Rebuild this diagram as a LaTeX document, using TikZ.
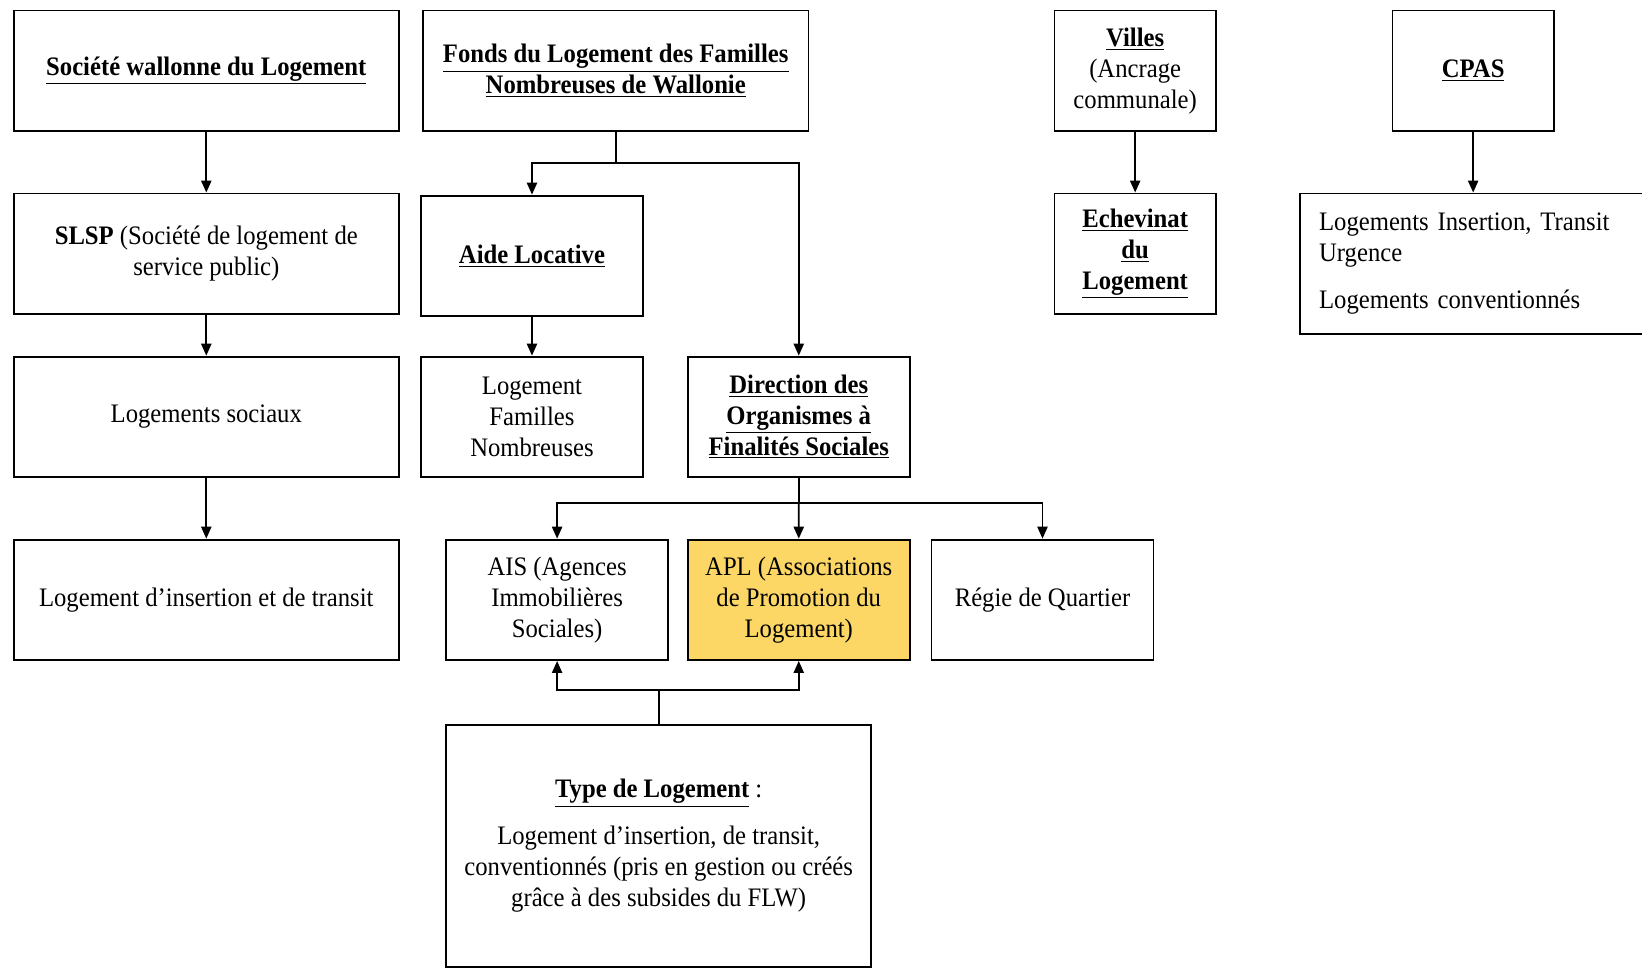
\documentclass[tikz,border=0pt]{standalone}
\usepackage{fontspec}
\setmainfont[FakeStretch=0.925]{Liberation Serif}
\usepackage{tikz}
\usetikzlibrary{positioning, arrows.meta}
\usepackage{xcolor}
\definecolor{aplyellow}{RGB}{252,215,101}
\newcommand{\ulb}[1]{\underline{\textbf{#1}}}

\begin{document}
\begin{tikzpicture}[node distance=1.16cm,
    every node/.style={font=\fontsize{14.5pt}{16.8pt}\selectfont},
    box/.style={draw, line width=1pt, align=center, minimum height=2.3cm, inner sep=0pt},
    wide/.style={box, minimum width=7.36cm},
    mid/.style={box, minimum width=4.24cm},
    narrow/.style={box, minimum width=3.08cm},
    arr/.style={line width=1pt, -{Triangle[length=6.5pt, width=5.5pt]}},
    link/.style={line width=1pt}]
        \useasboundingbox (0,0) rectangle (31.36,-18.52);
        \node[wide] (swl) at (3.94,-1.35) {\ulb{Société wallonne du Logement}};
        \node[wide] (fonds) at (11.76,-1.35) {\ulb{Fonds du Logement des Familles}\\\ulb{Nombreuses de Wallonie}};
        \node[narrow] (villes) at (21.68,-1.35) {\ulb{Villes}\\(Ancrage\\communale)};
        \node[narrow, right=3.34cm of villes] (cpas) {\ulb{CPAS}};
        \node[wide, below=of swl] (slsp) {\textbf{SLSP} (Société de logement de\\service public)};
        \node[mid, below=1.2cm of fonds.south, xshift=-1.6cm] (aide) {\ulb{Aide Locative}};
        \node[narrow, below=of villes] (echevinat) {\ulb{Echevinat}\\\ulb{du}\\\ulb{Logement}};
        \node[draw, line width=1pt, align=left, minimum height=2.68cm, text width=6.0cm,
              inner xsep=0.36cm, inner ysep=0pt, below=of cpas.south, anchor=north west,
              xshift=-3.32cm] (cpaslog) {Logements Insertion, Transit\\Urgence\\[0.3cm]Logements conventionnés};
        \node[wide, below=0.78cm of slsp] (sociaux) {Logements sociaux};
        \node[mid, below=0.74cm of aide] (lfn) {Logement\\Familles\\Nombreuses};
        \node[mid, right=0.82cm of lfn] (dofs) {\ulb{Direction des}\\\ulb{Organismes à}\\\ulb{Finalités Sociales}};
        \node[wide, below=of sociaux] (insertion) {Logement d’insertion et de transit};
        \node[mid, below=of lfn, xshift=0.48cm] (ais) {AIS (Agences\\Immobilières\\Sociales)};
        \node[mid, fill=aplyellow, right=0.34cm of ais] (apl) {APL (Associations\\de Promotion du\\Logement)};
        \node[mid, right=0.38cm of apl] (regie) {Régie de Quartier};
        \node[box, minimum width=8.12cm, minimum height=4.62cm, below=1.2cm of ais.south west,
              anchor=north west] (type) {\ulb{Type de Logement} :\\[0.3cm]Logement d’insertion, de transit,\\conventionnés (pris en gestion ou créés\\grâce à des subsides du FLW)};

        \draw[arr] (swl) -- (slsp);
        \draw[arr] (slsp) -- (sociaux);
        \draw[arr] (sociaux) -- (insertion);
        \draw[link] (fonds.south) -- ++(0,-0.6) coordinate (fsplit);
        \draw[arr] (fsplit) -| (aide);
        \draw[arr] (fsplit) -| (dofs);
        \draw[arr] (aide) -- (lfn);
        \draw[link] (dofs.south) -- ++(0,-0.48) coordinate (dsplit);
        \draw[arr] (dsplit) -| (ais);
        \draw[arr] (dsplit) -- (apl);
        \draw[arr] (dsplit) -| (regie);
        \draw[link] (type.north) -- ++(0,0.64) coordinate (tsplit);
        \draw[arr] (tsplit) -| (ais.south);
        \draw[arr] (tsplit) -| (apl.south);
        \draw[arr] (villes) -- (echevinat);
        \draw[arr] (cpas) -- (cpas |- cpaslog.north);
      \end{tikzpicture}
\end{document}
